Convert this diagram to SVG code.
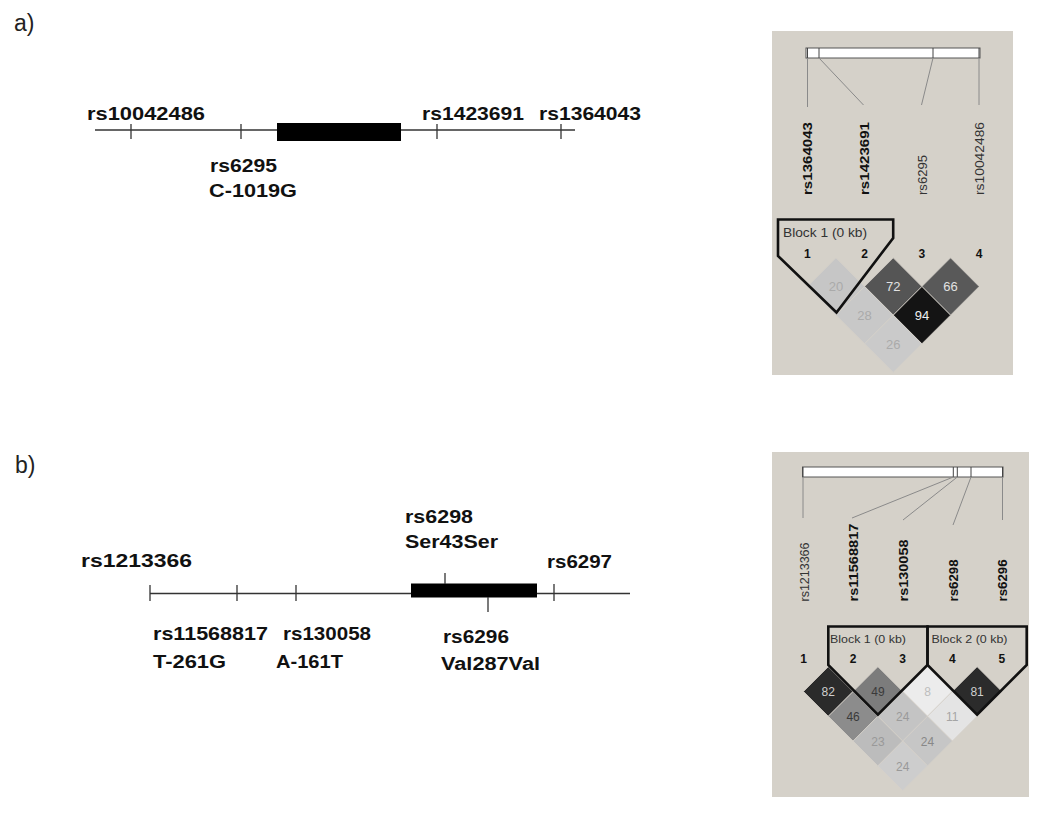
<svg xmlns="http://www.w3.org/2000/svg" xmlns:xlink="http://www.w3.org/1999/xlink" width="1050" height="815" viewBox="0 0 1050 815">
<style>
.lbl{font-family:"Liberation Sans",Arial,sans-serif;font-size:18px;font-weight:bold;fill:#111}
.pl{font-family:"Liberation Sans",Arial,sans-serif;font-size:23px;fill:#222}
.gl{stroke:#333;stroke-width:1.3;fill:none}
.tk{stroke:#333;stroke-width:1.3}
.ex{fill:#000}
.ldbg{fill:#d5d1c9}
.bar{fill:#fff;stroke:#555;stroke-width:1}
.btk{stroke:#444;stroke-width:1}
.cn{stroke:#8a8a8a;stroke-width:1;fill:none}
.vl{font-family:"Liberation Sans",Arial,sans-serif;font-size:13.5px;fill:#333}
.vb{font-family:"Liberation Sans",Arial,sans-serif;font-size:13.5px;font-weight:bold;fill:#111}
.num{font-family:"Liberation Sans",Arial,sans-serif;font-size:12px;font-weight:bold;fill:#111;text-anchor:middle}
.blk{font-family:"Liberation Sans",Arial,sans-serif;font-size:12px;fill:#333}
.blkb{font-family:"Liberation Sans",Arial,sans-serif;font-size:11px;fill:#333}
.dt{font-family:"Liberation Sans",Arial,sans-serif;font-size:13px;text-anchor:middle}
.dtb{font-family:"Liberation Sans",Arial,sans-serif;font-size:12px;text-anchor:middle}
.outl{fill:none;stroke:#111;stroke-width:2.6;stroke-linejoin:miter}
.dsA,.dsB{stroke:#d5d1c9;stroke-width:0.8}
</style>
<defs>
<polygon id="dA" points="0,-28.65 28.65,0 0,28.65 -28.65,0"/>
<polygon id="dB" points="0,-24.8 24.8,0 0,24.8 -24.8,0"/>
</defs>

<!-- Panel labels -->
<text class="pl" x="14" y="31">a)</text>
<text class="pl" x="15" y="473">b)</text>

<!-- Panel a gene -->
<g id="geneA">
<line class="gl" x1="95" y1="130" x2="575" y2="130"/>
<rect class="ex" x="277" y="123" width="124" height="18"/>
</g>
<g id="snpA-rs10042486"><line class="tk" x1="131" y1="124" x2="131" y2="139"/><text class="lbl" x="87" y="120" textLength="118" lengthAdjust="spacingAndGlyphs">rs10042486</text></g>
<g id="snpA-rs6295"><line class="tk" x1="241" y1="124" x2="241" y2="139"/><text class="lbl" x="210" y="172" textLength="67" lengthAdjust="spacingAndGlyphs">rs6295</text><text class="lbl" x="209" y="197" textLength="88" lengthAdjust="spacingAndGlyphs">C-1019G</text></g>
<g id="snpA-rs1423691"><line class="tk" x1="437" y1="124" x2="437" y2="139"/><text class="lbl" x="422" y="120" textLength="102" lengthAdjust="spacingAndGlyphs">rs1423691</text></g>
<g id="snpA-rs1364043"><line class="tk" x1="561" y1="124" x2="561" y2="139"/><text class="lbl" x="539" y="120" textLength="102" lengthAdjust="spacingAndGlyphs">rs1364043</text></g>

<!-- Panel b gene -->
<g id="geneB">
<line class="gl" x1="150" y1="593.5" x2="630" y2="593.5"/>
<rect class="ex" x="411" y="583.5" width="126" height="14"/>
</g>
<g id="snpB-rs1213366"><line class="tk" x1="150" y1="585" x2="150" y2="601"/><text class="lbl" x="81" y="567" textLength="111" lengthAdjust="spacingAndGlyphs">rs1213366</text></g>
<g id="snpB-rs11568817"><line class="tk" x1="237" y1="585" x2="237" y2="601"/><text class="lbl" x="153" y="640" textLength="115" lengthAdjust="spacingAndGlyphs">rs11568817</text><text class="lbl" x="153" y="668" textLength="73" lengthAdjust="spacingAndGlyphs">T-261G</text></g>
<g id="snpB-rs130058"><line class="tk" x1="296" y1="585" x2="296" y2="601"/><text class="lbl" x="283" y="640" textLength="88" lengthAdjust="spacingAndGlyphs">rs130058</text><text class="lbl" x="276" y="668" textLength="67" lengthAdjust="spacingAndGlyphs">A-161T</text></g>
<g id="snpB-rs6298"><line class="tk" x1="445" y1="573" x2="445" y2="584"/><text class="lbl" x="405" y="523" textLength="68" lengthAdjust="spacingAndGlyphs">rs6298</text><text class="lbl" x="405" y="548" textLength="93" lengthAdjust="spacingAndGlyphs">Ser43Ser</text></g>
<g id="snpB-rs6296"><line class="tk" x1="488" y1="597" x2="488" y2="612"/><text class="lbl" x="443" y="643" textLength="66" lengthAdjust="spacingAndGlyphs">rs6296</text><text class="lbl" x="441" y="670" textLength="99" lengthAdjust="spacingAndGlyphs">Val287Val</text></g>
<g id="snpB-rs6297"><line class="tk" x1="554" y1="584" x2="554" y2="601"/><text class="lbl" x="547" y="568" textLength="65" lengthAdjust="spacingAndGlyphs">rs6297</text></g>

<!-- Panel a LD plot -->
<g id="ldA">
<rect class="ldbg" x="772" y="31" width="241" height="344"/>
<rect class="bar" x="806" y="48" width="174" height="10"/>
<line class="btk" x1="807.5" y1="48" x2="807.5" y2="58"/>
<line class="btk" x1="819" y1="48" x2="819" y2="58"/>
<line class="btk" x1="933" y1="48" x2="933" y2="58"/>
<line class="btk" x1="979" y1="48" x2="979" y2="58"/>
</g>
<g id="connectorsA">
<line class="cn" x1="807.5" y1="58" x2="807.5" y2="107"/>
<line class="cn" x1="819" y1="58" x2="863.5" y2="105"/>
<line class="cn" x1="933" y1="58" x2="921.5" y2="105"/>
<line class="cn" x1="979" y1="58" x2="979" y2="105"/>
</g>
<g id="ldA-labels">
<text class="vb" transform="translate(812,195) rotate(-90)" textLength="73" lengthAdjust="spacingAndGlyphs">rs1364043</text>
<text class="vb" transform="translate(869,195) rotate(-90)" textLength="73" lengthAdjust="spacingAndGlyphs">rs1423691</text>
<text class="vl" transform="translate(926.5,195) rotate(-90)" textLength="40" lengthAdjust="spacingAndGlyphs">rs6295</text>
<text class="vl" transform="translate(983.5,195) rotate(-90)" textLength="73" lengthAdjust="spacingAndGlyphs">rs10042486</text>
<text class="num" x="807.3" y="258">1</text>
<text class="num" x="864.6" y="258">2</text>
<text class="num" x="921.9" y="258">3</text>
<text class="num" x="979.2" y="258">4</text>
</g>
<g id="ldA-cells">
<use xlink:href="#dA" class="dsA" x="835.95" y="286.5" fill="#c6c6c6"/>
<use xlink:href="#dA" class="dsA" x="893.25" y="286.5" fill="#555555"/>
<use xlink:href="#dA" class="dsA" x="950.55" y="286.5" fill="#595959"/>
<use xlink:href="#dA" class="dsA" x="864.6" y="315.15" fill="#c8c8c8"/>
<use xlink:href="#dA" class="dsA" x="921.9" y="315.15" fill="#141414"/>
<use xlink:href="#dA" class="dsA" x="893.25" y="343.8" fill="#cacaca"/>
<text class="dt" x="835.95" y="291" fill="#aaaaaa">20</text>
<text class="dt" x="893.25" y="291" fill="#e2e2e2">72</text>
<text class="dt" x="950.55" y="291" fill="#e2e2e2">66</text>
<text class="dt" x="864.6" y="320" fill="#aaaaaa">28</text>
<text class="dt" x="921.9" y="320" fill="#f0f0f0">94</text>
<text class="dt" x="893.25" y="348.5" fill="#aaaaaa">26</text>
</g>
<g id="ldA-block1">
<path class="outl" d="M778,219.5 L893.2,219.5 L893.2,238 L836.5,312.5 L778,256 Z"/>
<text class="blk" x="783" y="237" textLength="84" lengthAdjust="spacingAndGlyphs">Block 1 (0 kb)</text>
</g>

<!-- Panel b LD plot -->
<g id="ldB">
<rect class="ldbg" x="772" y="452" width="257" height="345"/>
<rect class="bar" x="802.5" y="467" width="200.5" height="10"/>
<line class="btk" x1="803" y1="467" x2="803" y2="477"/>
<line class="btk" x1="953.3" y1="467" x2="953.3" y2="477"/>
<line class="btk" x1="957.3" y1="467" x2="957.3" y2="477"/>
<line class="btk" x1="971" y1="467" x2="971" y2="477"/>
<line class="btk" x1="1002.5" y1="467" x2="1002.5" y2="477"/>
</g>
<g id="connectorsB">
<line class="cn" x1="803" y1="477" x2="803" y2="518"/>
<line class="cn" x1="953.3" y1="477" x2="852" y2="518"/>
<line class="cn" x1="957.3" y1="477" x2="903" y2="520"/>
<line class="cn" x1="971" y1="477" x2="953" y2="525"/>
<line class="cn" x1="1002.5" y1="477" x2="1002.5" y2="520"/>
</g>
<g id="ldB-labels">
<text class="vl" transform="translate(808.5,601.5) rotate(-90)" textLength="59" lengthAdjust="spacingAndGlyphs">rs1213366</text>
<text class="vb" transform="translate(857.5,601.5) rotate(-90)" textLength="78" lengthAdjust="spacingAndGlyphs">rs11568817</text>
<text class="vb" transform="translate(907.5,601.5) rotate(-90)" textLength="62" lengthAdjust="spacingAndGlyphs">rs130058</text>
<text class="vb" transform="translate(957.5,601.5) rotate(-90)" textLength="42" lengthAdjust="spacingAndGlyphs">rs6298</text>
<text class="vb" transform="translate(1006.5,601.5) rotate(-90)" textLength="42" lengthAdjust="spacingAndGlyphs">rs6296</text>
<text class="num" x="803.5" y="663">1</text>
<text class="num" x="853.1" y="663">2</text>
<text class="num" x="902.7" y="663">3</text>
<text class="num" x="952.3" y="663">4</text>
<text class="num" x="1001.9" y="663">5</text>
</g>
<g id="ldB-cells">
<use xlink:href="#dB" class="dsB" x="828.3" y="691.5" fill="#2b2b2b"/>
<use xlink:href="#dB" class="dsB" x="877.9" y="691.5" fill="#7c7c7c"/>
<use xlink:href="#dB" class="dsB" x="927.5" y="691.5" fill="#ececec"/>
<use xlink:href="#dB" class="dsB" x="977.1" y="691.5" fill="#2b2b2b"/>
<use xlink:href="#dB" class="dsB" x="853.1" y="716.3" fill="#8c8c8c"/>
<use xlink:href="#dB" class="dsB" x="902.7" y="716.3" fill="#c4c4c4"/>
<use xlink:href="#dB" class="dsB" x="952.3" y="716.3" fill="#e4e4e4"/>
<use xlink:href="#dB" class="dsB" x="877.9" y="741.1" fill="#bcbcbc"/>
<use xlink:href="#dB" class="dsB" x="927.5" y="741.1" fill="#c6c6c6"/>
<use xlink:href="#dB" class="dsB" x="902.7" y="765.9" fill="#cdcdcd"/>
<text class="dtb" x="828.3" y="696" fill="#cfcfcf">82</text>
<text class="dtb" x="877.9" y="696" fill="#3a3a3a">49</text>
<text class="dtb" x="927.5" y="696" fill="#bdbdbd">8</text>
<text class="dtb" x="977.1" y="696" fill="#cfcfcf">81</text>
<text class="dtb" x="853.1" y="721" fill="#3a3a3a">46</text>
<text class="dtb" x="902.7" y="721" fill="#9a9a9a">24</text>
<text class="dtb" x="952.3" y="721" fill="#a5a5a5">11</text>
<text class="dtb" x="877.9" y="745.5" fill="#999999">23</text>
<text class="dtb" x="927.5" y="745.5" fill="#888888">24</text>
<text class="dtb" x="902.7" y="770.5" fill="#999999">24</text>
</g>
<g id="ldB-block1">
<path class="outl" d="M828.3,626.5 L927.5,626.5 L927.5,665 L877.9,714.6 L828.3,665 Z"/>
<text class="blkb" x="830" y="643" textLength="76" lengthAdjust="spacingAndGlyphs">Block 1 (0 kb)</text>
</g>
<g id="ldB-block2">
<path class="outl" d="M927.5,626.5 L1026.7,626.5 L1026.7,665 L977.1,714.6 L927.5,665 Z"/>
<text class="blkb" x="931.5" y="643" textLength="76" lengthAdjust="spacingAndGlyphs">Block 2 (0 kb)</text>
</g>
</svg>
